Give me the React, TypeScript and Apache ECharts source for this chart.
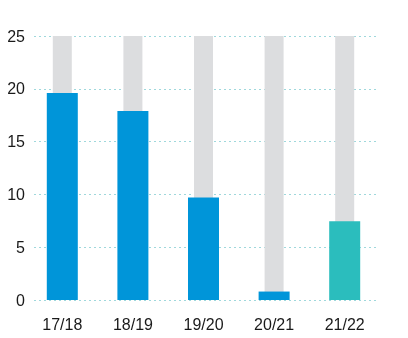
import React, { useEffect, useRef } from "react";
import * as echarts from "echarts";

const categories = ["17/18", "18/19", "19/20", "20/21", "21/22"];
const values = [19.6, 17.9, 9.7, 0.8, 7.45];
const backgroundValues = [25, 25, 25, 25, 25];
const barColors = ["#0095d9", "#0095d9", "#0095d9", "#0095d9", "#2bbdbd"];

export default function App() {
  const ref = useRef<HTMLDivElement>(null);
  useEffect(() => {
    if (!ref.current) return;
    const chart = echarts.init(ref.current, undefined, { renderer: "svg" });
    const labelStyle = { color: "#1a1a1a", fontSize: 16, fontFamily: "Liberation Sans, Arial, sans-serif" };
    chart.setOption({
      animation: false,
      grid: [
        { left: 27, right: 28, top: 36, bottom: 38 },
        { left: 34, right: 31, top: 36, bottom: 38 },
      ],
      xAxis: [
        {
          type: "category",
          data: categories,
          axisLine: { show: false },
          axisTick: { show: false },
          axisLabel: { ...labelStyle, margin: 16 },
        },
        {
          type: "category",
          data: categories,
          show: false,
        },
        {
          type: "category",
          data: categories,
          gridIndex: 1,
          show: false,
        },
      ],
      yAxis: [
        {
          type: "value",
          min: 0,
          max: 25,
          interval: 5,
          axisLine: { show: false },
          axisTick: { show: false },
          axisLabel: { ...labelStyle, margin: 2 },
          splitLine: { show: false },
        },
        {
          type: "value",
          gridIndex: 1,
          min: 0,
          max: 25,
          interval: 5,
          axisLine: { show: false },
          axisTick: { show: false },
          axisLabel: { show: false },
          splitLine: { lineStyle: { color: "#9fd8dc", type: [2, 3], width: 1 } },
        },
      ],
      series: [
        {
          type: "bar",
          xAxisIndex: 1,
          data: backgroundValues,
          barWidth: 19,
          itemStyle: { color: "#dcdddf" },
          z: 3,
        },
        {
          type: "bar",
          xAxisIndex: 0,
          data: values.map((v, i) => ({ value: v, itemStyle: { color: barColors[i] } })),
          barWidth: 31,
          z: 4,
        },
      ],
    });
    return () => chart.dispose();
  }, []);
  return <div ref={ref} style={{ position: "fixed", left: 0, top: 0, width: 408, height: 338 }} />;
}
